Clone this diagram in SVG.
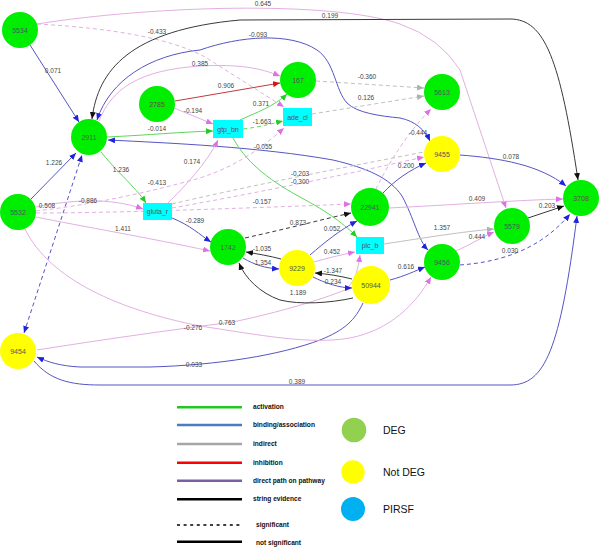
<svg xmlns="http://www.w3.org/2000/svg" width="600" height="547" viewBox="0 0 600 547">
<defs>
<marker id="aBlue" markerUnits="userSpaceOnUse" markerWidth="7" markerHeight="6" refX="7" refY="3" orient="auto-start-reverse"><path d="M0,0 L7,3 L0,6 z" fill="#2222dd"/></marker>
<marker id="aPink" markerUnits="userSpaceOnUse" markerWidth="7" markerHeight="6" refX="7" refY="3" orient="auto-start-reverse"><path d="M0,0 L7,3 L0,6 z" fill="#e070e8"/></marker>
<marker id="aGray" markerUnits="userSpaceOnUse" markerWidth="7" markerHeight="6" refX="7" refY="3" orient="auto-start-reverse"><path d="M0,0 L7,3 L0,6 z" fill="#b0b0b0"/></marker>
<marker id="aGreen" markerUnits="userSpaceOnUse" markerWidth="7" markerHeight="6" refX="7" refY="3" orient="auto-start-reverse"><path d="M0,0 L7,3 L0,6 z" fill="#22cc22"/></marker>
<marker id="aRed" markerUnits="userSpaceOnUse" markerWidth="7" markerHeight="6" refX="7" refY="3" orient="auto-start-reverse"><path d="M0,0 L7,3 L0,6 z" fill="#dd1111"/></marker>
<marker id="aBlack" markerUnits="userSpaceOnUse" markerWidth="7" markerHeight="6" refX="7" refY="3" orient="auto-start-reverse"><path d="M0,0 L7,3 L0,6 z" fill="#111"/></marker>
</defs>
<style>
.e{fill:none;stroke-width:1}
.blue{stroke:#5555c4}
.pink{stroke:#e2b0e2}
.gray{stroke:#c0c0c0}
.green{stroke:#5cd85c}
.red{stroke:#c03a3a}
.black{stroke:#3a3a3a}
.d{stroke-dasharray:4,3}
.ab{marker-end:url(#aBlue)}
.ap{marker-end:url(#aPink)}
.ag{marker-end:url(#aGray)}
.agr{marker-end:url(#aGreen)}
.ar{marker-end:url(#aRed)}
.ak{marker-end:url(#aBlack)}
.lbl{font-family:"Liberation Sans",Arial,sans-serif;font-size:6.5px;fill:#444;text-anchor:middle}
.nt{font-family:"Liberation Sans",Arial,sans-serif;font-size:7px;fill:#555;text-anchor:middle;dominant-baseline:central}
.g{fill:#00ee00}
.y{fill:#ffff00}
.c{fill:#00ffff}
.lg{font-family:"Liberation Sans",Arial,sans-serif;font-size:6.6px;font-weight:bold;fill:#111}
.lg2{font-family:"Liberation Sans",Arial,sans-serif;font-size:10.5px;fill:#111}
</style>
<rect width="600" height="547" fill="#fff"/>
<g id="connectors">
<path class="e blue ab" d="M30,45 L79,122"/>
<path class="e pink ap" d="M37,24 C150,6 330,0 400,24 Q440,38 460,70 L506,208"/>
<path class="e pink d ap" d="M37,24 C110,28 170,38 205,57 L284,107"/>
<path class="e black ak" style="marker-start:url(#aBlack)" d="M92,119 C98,70 130,30 240,20 L510,19 C545,19 560,60 578,180"/>
<path class="e blue ab" style="marker-start:url(#aBlue)" d="M97,120 C110,80 150,55 200,50 C240,36 290,32 317,50 C335,62 335,90 347,103 C357,113 380,116 400,118 C415,121 425,130 430,141"/>
<path class="e pink ap" d="M99,121 C112,88 140,70 200,66 C240,64 260,68 280,76"/>
<path class="e red ar" d="M175,101 L280,83"/>
<path class="e pink ap" d="M174,108 L213,124"/>
<path class="e gray d ag" d="M316,81 L424,88"/>
<path class="e gray d ag" d="M312,114 L424,96"/>
<path class="e green agr" d="M240,120 C255,113 275,106 287,94"/>
<path class="e green d agr" d="M243,129 C260,127 270,124 283,121"/>
<path class="e green agr" d="M107,137 C150,135 180,132 213,131"/>
<path class="e blue ab" style="marker-start:url(#aBlue)" d="M108,140 C170,143 260,147 333,160 C367,168 390,178 402,196 C414,218 418,240 428,250"/>
<path class="e blue ab" d="M383,193 C395,180 410,170 426,163"/>
<path class="e pink d ap" d="M376,189 C390,160 410,130 431,109"/>
<path class="e blue ab" d="M460,155 C500,158 540,165 566,186"/>
<path class="e pink ap" d="M389,208 C450,205 520,200 563,199"/>
<path class="e black ak" d="M528,218 L564,206"/>
<path class="e blue d ab" d="M460,265 C500,262 540,250 570,214"/>
<path class="e blue ab" d="M34,361 C50,380 70,385 100,385 L510,385 C545,385 560,350 577,216"/>
<path class="e pink ap" d="M456,251 C470,245 480,238 494,232"/>
<path class="e gray ag" d="M384,244 C430,237 460,232 494,229"/>
<path class="e blue ab" d="M31,199 L76,153"/>
<path class="e blue d ab" style="marker-start:url(#aBlue)" d="M24,333 L82,155"/>
<path class="e pink ap" d="M36,207 C70,200 110,197 143,209"/>
<path class="e pink d ap" d="M36,213 C100,213 200,210 351,204"/>
<path class="e pink d ap" d="M36,211 C90,205 150,192 200,178 C240,165 265,145 284,128"/>
<path class="e pink ap" d="M168,203 C185,186 207,163 218,140"/>
<path class="e blue ab" d="M172,218 C190,225 200,235 211,242"/>
<path class="e green agr" d="M101,152 C113,167 127,180 133,187 C138,192 142,197 146,203"/>
<path class="e pink ap" d="M36,217 C80,226 150,238 210,251"/>
<path class="e pink d ap" d="M172,208 C240,196 330,178 424,157"/>
<path class="e gray d" d="M172,204 C240,188 330,170 424,152"/>
<path class="e green agr" d="M233,138 C245,160 265,178 300,197 C330,213 345,225 357,237"/>
<path class="e black d ak" d="M245,238 C290,228 320,220 351,213"/>
<path class="e blue ab" d="M310,255 C325,242 340,230 357,221"/>
<path class="e pink ap" d="M37,350 C100,340 170,330 233,322 C280,312 320,300 345,290 C355,282 358,270 360,255"/>
<path class="e pink ap" d="M314,262 C328,258 340,255 355,252"/>
<path class="e black ak" d="M281,259 C270,256 258,254 246,252"/>
<path class="e blue ab" d="M243,258 C255,265 265,268 279,269"/>
<path class="e black ak" d="M352,279 C340,276 328,274 315,273"/>
<path class="e blue ab" d="M313,277 C325,283 340,288 352,288"/>
<path class="e black ak" d="M353,298 C330,303 300,305 280,300 C260,293 245,278 239,263"/>
<path class="e blue ab" d="M390,280 C405,276 415,271 425,267"/>
<path class="e blue ab" d="M363,303 C355,320 345,330 320,340 C280,355 220,365 150,367 L80,367 C60,366 48,362 37,357"/>
<path class="e pink ap" d="M25,229 C50,280 120,310 200,326 C260,335 310,345 350,338 C390,330 415,305 431,277"/>
<g id="edge-labels">
<text class="lbl" x="53" y="73">0.071</text>
<text class="lbl" x="263" y="6">0.645</text>
<text class="lbl" x="157" y="34">-0.433</text>
<text class="lbl" x="330" y="18">0.199</text>
<text class="lbl" x="258" y="37">-0.093</text>
<text class="lbl" x="200" y="66">0.385</text>
<text class="lbl" x="226" y="88">0.906</text>
<text class="lbl" x="193" y="113">-0.194</text>
<text class="lbl" x="367" y="79">-0.360</text>
<text class="lbl" x="366" y="100">0.126</text>
<text class="lbl" x="261" y="106">0.371</text>
<text class="lbl" x="262" y="124">-1.663</text>
<text class="lbl" x="157" y="131">-0.014</text>
<text class="lbl" x="263" y="149">-0.055</text>
<text class="lbl" x="406" y="168">0.200</text>
<text class="lbl" x="418" y="135">-0.444</text>
<text class="lbl" x="511" y="159">0.078</text>
<text class="lbl" x="477" y="201">0.409</text>
<text class="lbl" x="547" y="208">0.203</text>
<text class="lbl" x="510" y="253">0.030</text>
<text class="lbl" x="297" y="384">0.389</text>
<text class="lbl" x="477" y="239">0.444</text>
<text class="lbl" x="442" y="230">1.357</text>
<text class="lbl" x="54" y="165">1.226</text>
<text class="lbl" x="88" y="203">-0.886</text>
<text class="lbl" x="47" y="208">0.508</text>
<text class="lbl" x="262" y="204">-0.157</text>
<text class="lbl" x="157" y="185">-0.413</text>
<text class="lbl" x="192" y="164">0.174</text>
<text class="lbl" x="195" y="223">-0.289</text>
<text class="lbl" x="121" y="172">1.236</text>
<text class="lbl" x="123" y="231">1.411</text>
<text class="lbl" x="300" y="176">-0.203</text>
<text class="lbl" x="300" y="183.5">-0.300</text>
<text class="lbl" x="298" y="225">0.873</text>
<text class="lbl" x="332" y="231">0.052</text>
<text class="lbl" x="227" y="325">0.763</text>
<text class="lbl" x="332" y="254">0.452</text>
<text class="lbl" x="262" y="251">-1.035</text>
<text class="lbl" x="263" y="265">1.354</text>
<text class="lbl" x="333" y="273">-1.347</text>
<text class="lbl" x="333" y="284">0.234</text>
<text class="lbl" x="298" y="295">1.189</text>
<text class="lbl" x="406" y="269">0.616</text>
<text class="lbl" x="194" y="367">0.033</text>
<text class="lbl" x="193" y="330">-0.276</text>
</g>
</g>
<g id="n5534"><circle class="g" cx="20" cy="30" r="18"/><text class="nt" x="20" y="30">5534</text></g>
<g id="n2911"><circle class="g" cx="89" cy="137" r="18"/><text class="nt" x="89" y="137">2911</text></g>
<g id="n2785"><circle class="g" cx="157" cy="104" r="18"/><text class="nt" x="157" y="104">2785</text></g>
<g id="n167"><circle class="g" cx="298" cy="80" r="18"/><text class="nt" x="298" y="80">167</text></g>
<g id="n5613"><circle class="g" cx="442" cy="92" r="18"/><text class="nt" x="442" y="92">5613</text></g>
<g id="n9455"><circle class="y" cx="442" cy="154" r="18"/><text class="nt" x="442" y="154">9455</text></g>
<g id="n5532"><circle class="g" cx="18" cy="212" r="18"/><text class="nt" x="18" y="212">5532</text></g>
<g id="n22941"><circle class="g" cx="370" cy="207" r="19"/><text class="nt" x="370" y="207">22941</text></g>
<g id="n3708"><circle class="g" cx="581" cy="198" r="18"/><text class="nt" x="581" y="198">3708</text></g>
<g id="n5579"><circle class="g" cx="512" cy="226" r="18"/><text class="nt" x="512" y="226">5579</text></g>
<g id="n1742"><circle class="g" cx="228" cy="247" r="18"/><text class="nt" x="228" y="247">1742</text></g>
<g id="n9229"><circle class="y" cx="297" cy="268" r="18"/><text class="nt" x="297" y="268">9229</text></g>
<g id="n50944"><circle class="y" cx="371" cy="285" r="19"/><text class="nt" x="371" y="285">50944</text></g>
<g id="n9456"><circle class="g" cx="442" cy="262" r="18"/><text class="nt" x="442" y="262">9456</text></g>
<g id="n9454"><circle class="y" cx="18" cy="351" r="18"/><text class="nt" x="18" y="351">9454</text></g>
<g id="ade_cl"><rect class="c" x="283" y="108" width="29" height="18"/><text class="nt" x="297.5" y="117">ade_cl</text></g>
<g id="gtp_bn"><rect class="c" x="213" y="120" width="30" height="18"/><text class="nt" x="228" y="129">gtp_bn</text></g>
<g id="gluta_r"><rect class="c" x="143" y="203" width="29" height="17"/><text class="nt" x="157.5" y="211.5">gluta_r</text></g>
<g id="plc_b"><rect class="c" x="356" y="237" width="28" height="17"/><text class="nt" x="370" y="245.5">plc_b</text></g>
<g id="legend">
<line x1="177" y1="407.3" x2="242" y2="407.3" stroke="#22c822" stroke-width="2.5"/>
<line x1="177" y1="425" x2="242" y2="425" stroke="#4a7bc4" stroke-width="2.5"/>
<line x1="177" y1="444" x2="242" y2="444" stroke="#a6a6a6" stroke-width="2.5"/>
<line x1="177" y1="462.7" x2="242" y2="462.7" stroke="#ff0000" stroke-width="2.5"/>
<line x1="177" y1="480.7" x2="242" y2="480.7" stroke="#7a5fa5" stroke-width="2.5"/>
<line x1="177" y1="499.3" x2="242" y2="499.3" stroke="#000" stroke-width="2.5"/>
<line x1="177" y1="525" x2="242" y2="525" stroke="#000" stroke-width="1.3" stroke-dasharray="3,3.6"/>
<line x1="177" y1="541.7" x2="242" y2="541.7" stroke="#000" stroke-width="2.5"/>
<text class="lg" x="253" y="409.3">activation</text>
<text class="lg" x="253" y="427">binding/association</text>
<text class="lg" x="253" y="446">indirect</text>
<text class="lg" x="253" y="464.7">inhibition</text>
<text class="lg" x="253" y="482.7">direct path on pathway</text>
<text class="lg" x="253" y="501.3">string evidence</text>
<text class="lg" x="256" y="527">significant</text>
<text class="lg" x="256" y="544.7">not significant</text>
<circle cx="354" cy="430" r="12.3" fill="#92d050"/>
<circle cx="353" cy="472" r="11.7" fill="#ffff00"/>
<circle cx="353" cy="509" r="12" fill="#00b0f0"/>
<text class="lg2" x="383" y="434">DEG</text>
<text class="lg2" x="383" y="476">Not DEG</text>
<text class="lg2" x="383" y="513">PIRSF</text>
</g>
</svg>
